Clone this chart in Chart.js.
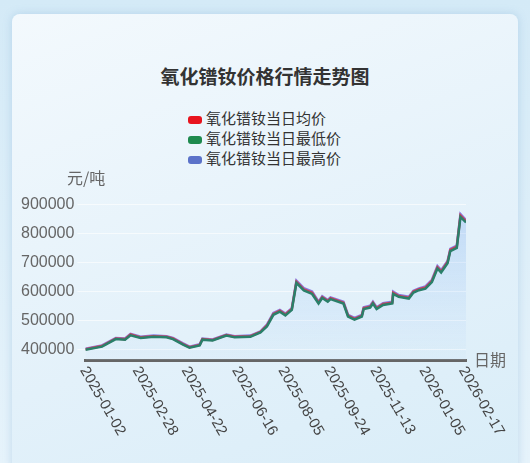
<!DOCTYPE html>
<html>
<head>
<meta charset="utf-8">
<script src="https://cdn.jsdelivr.net/npm/chart.js@4"></script>
<style>
  body { margin:0; width:530px; height:463px; overflow:hidden;
    background: linear-gradient(180deg,#d4eaf7 0%,#e6f3fb 100%);
    font-family: "Noto Sans CJK SC", "Liberation Sans", sans-serif; }
  #card { position:absolute; left:12px; top:14px; width:506px; height:460px;
    background: linear-gradient(160deg,#f3f9fd 0%,#e3f1fa 60%,#d9edf8 100%);
    border-radius:8px; box-shadow:0 0 8px rgba(120,170,210,0.35); }
  #title { position:absolute; top:62px; left:0; width:530px; text-align:center;
    font-size:19px; font-weight:bold; color:#333; }
  #legend { position:absolute; top:108px; left:188px; font-size:15px; color:#333; line-height:20px; }
  #legend span.box { display:inline-block; width:14px; height:8px; border-radius:3px; margin-right:4px; vertical-align:middle; }
  canvas { position:absolute; left:0; top:0; }
</style>
</head>
<body>
<div id="card"></div>
<div id="title">氧化镨钕价格行情走势图</div>
<div id="legend">
  <div><span class="box" style="background:#e8141e"></span>氧化镨钕当日均价</div>
  <div><span class="box" style="background:#1e8a4e"></span>氧化镨钕当日最低价</div>
  <div><span class="box" style="background:#5b72c9"></span>氧化镨钕当日最高价</div>
</div>
<canvas id="myChart" width="530" height="463"></canvas>
<script>
// dates and prices
const dates = ['2025-01-02','2025-01-20','2025-02-04','2025-02-14','2025-02-20','2025-03-03','2025-03-17','2025-03-31',
  '2025-04-07','2025-04-18','2025-04-25','2025-05-06','2025-05-09','2025-05-20','2025-06-04','2025-06-13','2025-06-30',
  '2025-07-11','2025-07-18','2025-07-25','2025-08-01','2025-08-07','2025-08-14','2025-08-19','2025-08-27','2025-09-05',
  '2025-09-12','2025-09-16','2025-09-22','2025-09-25','2025-10-09','2025-10-14','2025-10-21','2025-10-29','2025-10-31',
  '2025-11-07','2025-11-10','2025-11-14','2025-11-21','2025-12-01','2025-12-02','2025-12-08','2025-12-19','2025-12-24',
  '2025-12-30','2026-01-06','2026-01-13','2026-01-19','2026-01-23','2026-01-30','2026-02-02','2026-02-09','2026-02-13','2026-02-19'];
const avgPrice = [400000,411000,437000,435000,451000,441000,445000,443000,437000,418000,407000,415000,435000,432000,449000,443000,445000,
  460000,482000,522000,533000,520000,539000,633000,607000,595000,561000,580000,567000,576000,561000,516000,505000,516000,542000,
  547000,561000,542000,556000,561000,595000,584000,578000,599000,607000,613000,636000,683000,669000,701000,743000,754000,862000,842000];
const lowPrice = [398000,409000,435000,433000,448000,439000,443000,441000,435000,416000,405000,413000,433000,430000,447000,441000,443000,
  458000,479000,519000,530000,517000,536000,629000,603000,591000,558000,577000,564000,573000,558000,513000,502000,513000,539000,
  544000,558000,539000,553000,558000,591000,581000,575000,596000,604000,609000,632000,679000,665000,697000,739000,750000,857000,838000];
const highPrice = [402000,413000,439000,437000,453000,443000,447000,445000,439000,420000,409000,417000,437000,434000,451000,445000,447000,
  462000,485000,525000,536000,523000,542000,637000,611000,599000,564000,583000,570000,579000,564000,519000,508000,519000,545000,
  550000,564000,545000,559000,564000,599000,587000,581000,602000,610000,617000,640000,687000,673000,705000,747000,758000,867000,846000];
const tickDates = ['2025-01-02','2025-02-28','2025-04-22','2025-06-16','2025-08-05','2025-09-24','2025-11-13','2026-01-05','2026-02-17'];
const yTicks = [400000,500000,600000,700000,800000,900000];

const day0 = Date.parse('2025-01-02');
const toDay = d => (Date.parse(d) - day0) / 86400000;
const pts = arr => arr.map((v, i) => ({ x: toDay(dates[i]), y: v }));

const extraText = {
  id: 'extraText',
  afterDraw(chart) {
    const c = chart.ctx, a = chart.chartArea, xs = chart.scales.x;
    c.save();
    c.fillStyle = '#666';
    c.font = '16px "Noto Sans CJK SC"';
    c.textBaseline = 'middle';
    c.fillText('元/吨', 67, 178);
    c.fillText('日期', a.right + 8, a.bottom);
    // x labels hang down to the right from each tick
    c.fillStyle = '#444';
    c.font = '15px "Liberation Sans"';
    c.textAlign = 'left';
    c.textBaseline = 'middle';
    tickDates.forEach(d => {
      c.save();
      c.translate(xs.getPixelForValue(toDay(d)) - 2, a.bottom + 8);
      c.rotate(Math.PI / 3);
      c.fillText(d, 0, 0);
      c.restore();
    });
    c.restore();
  }
};

const ctx = document.getElementById('myChart').getContext('2d');
const fillGrad = ctx.createLinearGradient(0, 190, 0, 368);
fillGrad.addColorStop(0, 'rgba(120,170,240,0.4)');
fillGrad.addColorStop(1, 'rgba(200,225,250,0.1)');

const myChart = new Chart(ctx, {
  type: 'line',
  data: {
    datasets: [
      { label: '氧化镨钕当日最低价', data: pts(lowPrice), borderColor: '#2a7f6a', borderWidth: 2.5, pointRadius: 0, tension: 0 },
      { label: '氧化镨钕当日均价', data: pts(avgPrice), borderColor: 'rgba(210,60,70,0.9)', borderWidth: 2.5, pointRadius: 0, tension: 0 },
      { label: '氧化镨钕当日最高价', data: pts(highPrice), borderColor: 'rgba(60,30,210,0.55)', borderWidth: 2.5, pointRadius: 0, tension: 0,
        fill: 'origin', backgroundColor: fillGrad }
    ]
  },
  options: {
    responsive: false,
    animation: false,
    layout: { padding: { left: 18, right: 64, top: 190, bottom: 95 } },
    plugins: { legend: { display: false }, tooltip: { enabled: false } },
    scales: {
      x: {
        type: 'linear', min: 0, max: toDay('2026-02-19'),
        afterBuildTicks: s => { s.ticks = tickDates.map(d => ({ value: toDay(d) })); },
        ticks: { display: false },
        grid: { display: false },
        border: { color: '#666', width: 3 }
      },
      y: {
        min: 362800, max: 950000,
        afterBuildTicks: s => { s.ticks = yTicks.map(v => ({ value: v })); },
        ticks: { color: '#666', font: { size: 16, family: 'Liberation Sans' }, callback: v => String(v) },
        grid: { color: 'rgba(255,255,255,0.6)' },
        border: { display: false }
      }
    }
  },
  plugins: [extraText]
});
</script>
</body>
</html>
